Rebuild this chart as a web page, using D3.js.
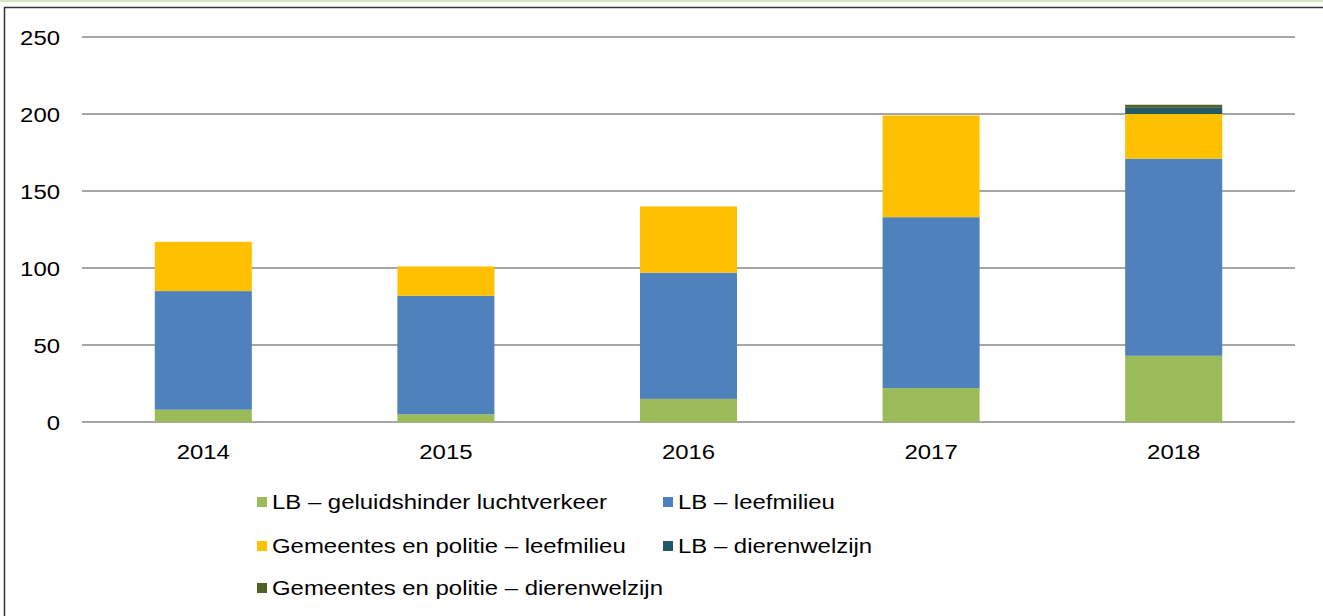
<!DOCTYPE html>
<meta charset="utf-8">
<script src="https://d3js.org/d3.v7.min.js"></script>
<style>
  body { margin: 0; background: #fff; }
  text { font-family: "Liberation Sans", Arial, sans-serif; fill: #000; }
</style>
<div id="chart"></div>
<script>
// data
var years = ["2014", "2015", "2016", "2017", "2018"];
var lbGeluid = [8, 5, 15, 22, 43];
var lbLeefmilieu = [77, 77, 82, 111, 128];
var gemLeefmilieu = [32, 19, 43, 66, 29];
var lbDieren = [0, 0, 0, 0, 4];
var gemDieren = [0, 0, 0, 0, 2];
var yTicks = [0, 50, 100, 150, 200, 250];

var seriesNames = [
  "LB \u2013 geluidshinder luchtverkeer",
  "LB \u2013 leefmilieu",
  "Gemeentes en politie \u2013 leefmilieu",
  "LB \u2013 dierenwelzijn",
  "Gemeentes en politie \u2013 dierenwelzijn"
];
var seriesValues = [lbGeluid, lbLeefmilieu, gemLeefmilieu, lbDieren, gemDieren];
var colors = ["#9bbb59", "#4f81bd", "#ffc000", "#215968", "#4f6228"];

var W = 1323, H = 616;
var sx = 1.14; // text is a bit wide in the picture
var margin = { top: 37, left: 82, right: 28 };
var plotBottom = 422;

var svg = d3.select("#chart").append("svg")
  .attr("width", W).attr("height", H);

// outer frame
svg.append("rect").attr("x", 0).attr("y", 0).attr("width", W).attr("height", 2)
  .attr("fill", "#d7e4bd");
svg.append("rect").attr("x", 4.5).attr("y", 7.5).attr("width", W + 10).attr("height", H + 10)
  .attr("fill", "none").attr("stroke", "#333").attr("stroke-width", 1.5);

var x = d3.scaleBand()
  .domain(years)
  .range([margin.left, W - margin.right])
  .paddingInner(0.6)
  .paddingOuter(0.3);

var y = d3.scaleLinear()
  .domain([0, 250])
  .range([plotBottom, margin.top]);

// gridlines
svg.append("g").selectAll("line")
  .data(yTicks)
  .join("line")
  .attr("x1", margin.left).attr("x2", W - margin.right)
  .attr("y1", d => y(d)).attr("y2", d => y(d))
  .attr("stroke", "#a6a6a6").attr("stroke-width", 2);

function addText(g, px, py, str, anchor) {
  return g.append("text")
    .attr("transform", "translate(" + px + "," + py + ") scale(" + sx + ",1)")
    .attr("text-anchor", anchor || "start")
    .attr("dominant-baseline", "central")
    .style("font-size", "21px")
    .text(str);
}

// y labels
var yl = svg.append("g");
yTicks.forEach(function (t) { addText(yl, 60, y(t) + 1, t, "end"); });

// stacked bars
var table = years.map(function (yr, i) {
  var row = { year: yr };
  seriesNames.forEach(function (s, k) { row[s] = seriesValues[k][i]; });
  return row;
});
var stack = d3.stack().keys(seriesNames)(table);

svg.append("g").selectAll("g")
  .data(stack)
  .join("g")
  .attr("fill", (d, i) => colors[i])
  .selectAll("rect")
  .data(d => d)
  .join("rect")
  .attr("x", d => x(d.data.year))
  .attr("width", x.bandwidth())
  .attr("y", d => y(d[1]))
  .attr("height", d => y(d[0]) - y(d[1]));

// x labels
var xl = svg.append("g");
years.forEach(function (yr) { addText(xl, x(yr) + x.bandwidth() / 2, 452, yr, "middle"); });

// legend
var legendPos = [[257, 502], [663, 502], [257, 546], [663, 546], [257, 588]];
var lg = svg.append("g");
seriesNames.forEach(function (s, i) {
  var p = legendPos[i];
  lg.append("rect").attr("x", p[0]).attr("y", p[1] - 5).attr("width", 10).attr("height", 10)
    .attr("fill", colors[i]);
  addText(lg, p[0] + 15, p[1], s, "start");
});
</script>
